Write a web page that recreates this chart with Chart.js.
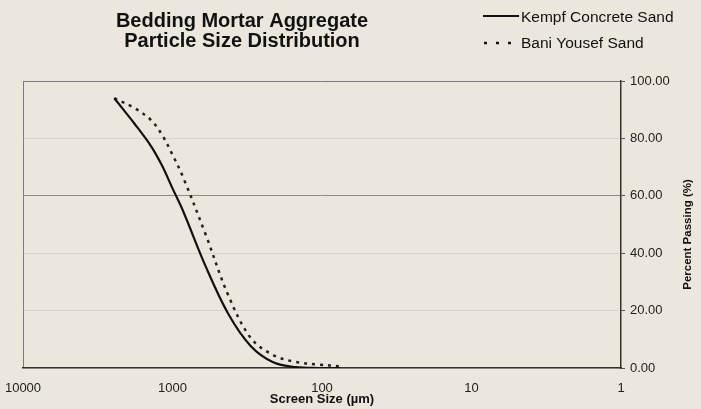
<!DOCTYPE html>
<html>
<head>
<meta charset="utf-8">
<script src="https://cdn.jsdelivr.net/npm/chart.js@4.4.1/dist/chart.umd.min.js"></script>
<style>
    body { margin: 0; background: #ece7dc; }
    canvas { display: block; }
</style>
</head>
<body>
<canvas id="psdChart" width="701" height="409"></canvas>
<script>
// values
const screenSizes = [2450, 1800, 1400, 1180, 1000, 850, 600, 425, 300, 212, 150, 106, 75]; // µm
const kempfPassing = [94, 85.2, 77.5, 70.7, 62.6, 54.7, 35.4, 19, 7.7, 2, 0.3, 0, 0];
const baniPassing = [94, 90.6, 86.5, 81.4, 74.3, 66.5, 46.5, 25.5, 10.5, 4.5, 2.1, 1.2, 0.6];
const xTickValues = [10000, 1000, 100, 10, 1];
const yTickValues = [0, 20, 40, 60, 80, 100];
const seriesNames = ['Kempf Concrete Sand', 'Bani Yousef Sand'];
const chartTitle = ['Bedding Mortar Aggregate', 'Particle Size Distribution'];

const fontFamily = '"Liberation Sans", Arial, sans-serif';

// pair sizes with percent passing
const kempfData = screenSizes.map((s, i) => ({ x: s, y: kempfPassing[i] }));
const baniData = screenSizes.map((s, i) => ({ x: s, y: baniPassing[i] }));

// title, legend box and right axis title drawn by hand
const extras = {
    id: 'extras',
    afterDraw(chart) {
        const ctx = chart.ctx;
        ctx.save();
        ctx.fillStyle = '#111';

        // title
        ctx.textAlign = 'center';
        ctx.textBaseline = 'alphabetic';
        ctx.font = 'bold 20px ' + fontFamily;
        ctx.fillText(chartTitle[0], 242, 27);
        ctx.fillText(chartTitle[1], 242, 47);

        // legend
        ctx.textAlign = 'left';
        ctx.font = '15.5px ' + fontFamily;
        ctx.strokeStyle = '#111';
        ctx.lineWidth = 2;
        ctx.beginPath();
        ctx.moveTo(483, 16);
        ctx.lineTo(519, 16);
        ctx.stroke();
        ctx.fillText(seriesNames[0], 521, 22);

        ctx.lineWidth = 2.5;
        ctx.setLineDash([3, 9]);
        ctx.beginPath();
        ctx.moveTo(484, 43);
        ctx.lineTo(516, 43);
        ctx.stroke();
        ctx.setLineDash([]);
        ctx.fillText(seriesNames[1], 521, 48);

        // y axis title, reading bottom to top
        const yScale = chart.scales.y;
        ctx.translate(688, (yScale.top + yScale.bottom) / 2 + 10);
        ctx.rotate(-Math.PI / 2);
        ctx.textAlign = 'center';
        ctx.textBaseline = 'middle';
        ctx.font = 'bold 11.5px ' + fontFamily;
        ctx.fillText('Percent Passing (%)', 0, 0);
        ctx.restore();
    }
};

const config = {
    type: 'line',
    data: {
        datasets: [{
            label: seriesNames[0],
            data: kempfData,
            borderColor: '#111',
            borderWidth: 2.2,
            pointRadius: 0,
            fill: false,
            tension: 0.35
        },
        {
            label: seriesNames[1],
            data: baniData,
            borderColor: '#222',
            borderWidth: 2.5,
            borderDash: [3, 5],
            pointRadius: 0,
            fill: false,
            tension: 0.35
        }]
    },
    options: {
        responsive: false,
        animation: false,
        layout: { padding: { left: 23, top: 81, right: 0, bottom: 0 } },
        plugins: {
            legend: { display: false },
            tooltip: { enabled: false }
        },
        scales: {
            x: {
                type: 'logarithmic',
                reverse: true,
                min: 1,
                max: 10000,
                afterBuildTicks: (scale) => {
                    scale.ticks = xTickValues.map(v => ({ value: v }));
                },
                afterFit: (scale) => {
                    scale.height = 41;
                    scale.paddingLeft = 0;
                    scale.paddingRight = 0;
                },
                ticks: {
                    callback: (v) => String(v),
                    font: { family: fontFamily, size: 13 },
                    color: '#222',
                    padding: 13,
                    maxRotation: 0,
                    autoSkip: false
                },
                grid: {
                    drawTicks: false,
                    color: (c) => (c.tick && c.tick.value === 10000) ? '#7a7a7a' : 'transparent'
                },
                border: { color: '#333', width: 1.5 },
                title: {
                    display: true,
                    text: 'Screen Size (µm)',
                    color: '#111',
                    font: { family: fontFamily, size: 13, weight: 'bold' },
                    padding: { top: 0, bottom: 2 }
                }
            },
            y: {
                position: 'right',
                min: 0,
                max: 100,
                afterBuildTicks: (scale) => {
                    scale.ticks = yTickValues.map(v => ({ value: v }));
                },
                afterFit: (scale) => {
                    scale.width = 80;
                    scale.paddingTop = 0;
                    scale.paddingBottom = 0;
                },
                ticks: {
                    callback: (v) => v.toFixed(2),
                    font: { family: fontFamily, size: 13 },
                    color: '#222',
                    padding: 5
                },
                grid: {
                    tickLength: 4,
                    tickColor: '#555',
                    color: (c) => {
                        if (!c.tick) return 'transparent';
                        if (c.tick.value === 60) return '#8c8c8c';
                        if (c.tick.value === 100) return '#7a7a7a';
                        return 'rgba(170,170,170,0.3)';
                    }
                },
                border: { color: '#333', width: 1.5 }
            }
        }
    },
    plugins: [extras]
};

const canvas = document.getElementById('psdChart');
window.myChart = new Chart(canvas, config);
</script>
</body>
</html>
